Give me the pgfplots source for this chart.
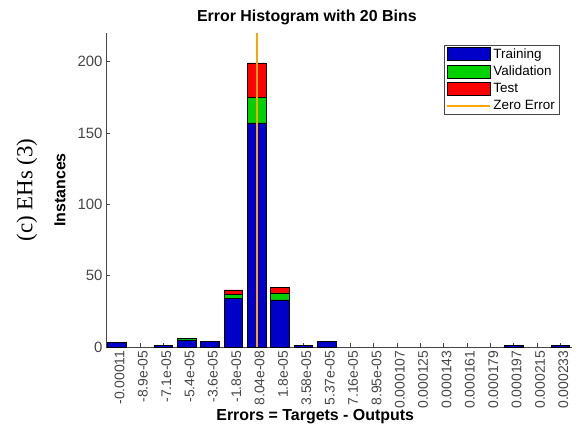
\documentclass[border=0pt]{standalone}
\usepackage{fontspec}
\setmainfont{Liberation Sans}
\newfontfamily\capfont{Liberation Serif}
\usepackage{pgfplots}
\usepackage{pgfplotstable}
\pgfplotsset{compat=1.18}

\definecolor{trainblue}{RGB}{0,0,200}
\definecolor{valgreen}{RGB}{0,210,0}
\definecolor{testred}{RGB}{255,0,0}
\definecolor{zeroorange}{RGB}{255,165,0}
\definecolor{axgray}{RGB}{70,70,70}

% bin index, training, validation, test (bins holding no errors are omitted)
\pgfplotstableread{
bin train val test
0   3   0  0
2   1   0  0
3   5   1  0
4   4   0  0
5   34  3  3
6   157 18 24
7   33  5  4
8   1   0  0
9   4   0  0
17  1   0  0
19  1   0  0
}\errhist

% zero error position on the bin scale
\pgfplotstableread{
x y
5.9955 0
5.9955 220
}\zeroline

\begin{document}
\begin{tikzpicture}
\pgfplotsset{
  common/.style={
    at={(0,0)}, anchor=south west,
    scale only axis, width=466bp, height=314bp,
    xmin=-0.45, xmax=19.5, ymin=0, ymax=220,
  },
  swatch/.style={legend image code/.code={\draw[##1] (0bp,-6.5bp) rectangle (43bp,6.5bp);}},
}
\begin{axis}[
  common,
  ybar stacked, bar width=18.6bp,
  axis x line*=bottom, axis y line*=left,
  axis line style={axgray, line width=0.7pt},
  tick style={axgray, line width=0.6pt},
  tick align=inside, major tick length=4bp,
  xtick={0,...,19},
  xticklabels={-0.00011,-8.9e-05,-7.1e-05,-5.4e-05,-3.6e-05,-1.8e-05,8.04e-08,1.8e-05,3.58e-05,5.37e-05,7.16e-05,8.95e-05,0.000107,0.000125,0.000143,0.000161,0.000179,0.000197,0.000215,0.000233},
  xticklabel style={rotate=90, anchor=east, yshift=-3bp, font=\fontsize{14}{16}\selectfont, text=axgray},
  ytick={0,50,...,200},
  yticklabel style={font=\fontsize{15}{17}\selectfont, text=axgray},
  /pgf/number format/assume math mode=true,
  title={Error Histogram with 20 Bins},
  title style={at={(axis description cs:0.431,1.03)}, anchor=center, font=\bfseries\fontsize{16}{18}\selectfont},
  xlabel={Errors = Targets - Outputs},
  xlabel style={at={(axis description cs:0.449,-0.222)}, anchor=center, font=\bfseries\fontsize{16}{18}\selectfont},
  ylabel={Instances},
  ylabel style={at={(axis description cs:-0.099,0.5)}, anchor=center, rotate=0, font=\bfseries\fontsize{16}{18}\selectfont},
  legend style={at={(axis description cs:0.972,0.962)}, anchor=north east,
    draw=axgray, fill=white, font=\fontsize{13.5}{16}\selectfont,
    inner xsep=2bp, inner ysep=2bp, row sep=4bp,
    nodes={inner xsep=2bp, inner ysep=1bp}},
  legend cell align=left,
  clip=false,
]
\addplot[fill=trainblue, draw=black, line width=0.5pt, swatch] table[x=bin, y=train] {\errhist};
\addlegendentry{Training}
\addplot[fill=valgreen, draw=black, line width=0.5pt, swatch] table[x=bin, y=val] {\errhist};
\addlegendentry{Validation}
\addplot[fill=testred, draw=black, line width=0.5pt, swatch] table[x=bin, y=test] {\errhist};
\addlegendentry{Test}
\addlegendimage{legend image code/.code={\draw[zeroorange, line width=2bp] (0bp,0bp) -- (43bp,0bp);}}
\addlegendentry{Zero Error}
\node[rotate=90, font=\capfont\fontsize{23}{26}\selectfont] at (axis description cs:-0.17,0.5) {(c) EHs (3)};
\end{axis}
\begin{axis}[common, hide axis]
\addplot[zeroorange, line width=2bp, no marks] table {\zeroline};
\end{axis}
% page frame around the axis box
\path (-106bp,-78bp) rectangle (475bp,347bp);
\end{tikzpicture}
\end{document}
